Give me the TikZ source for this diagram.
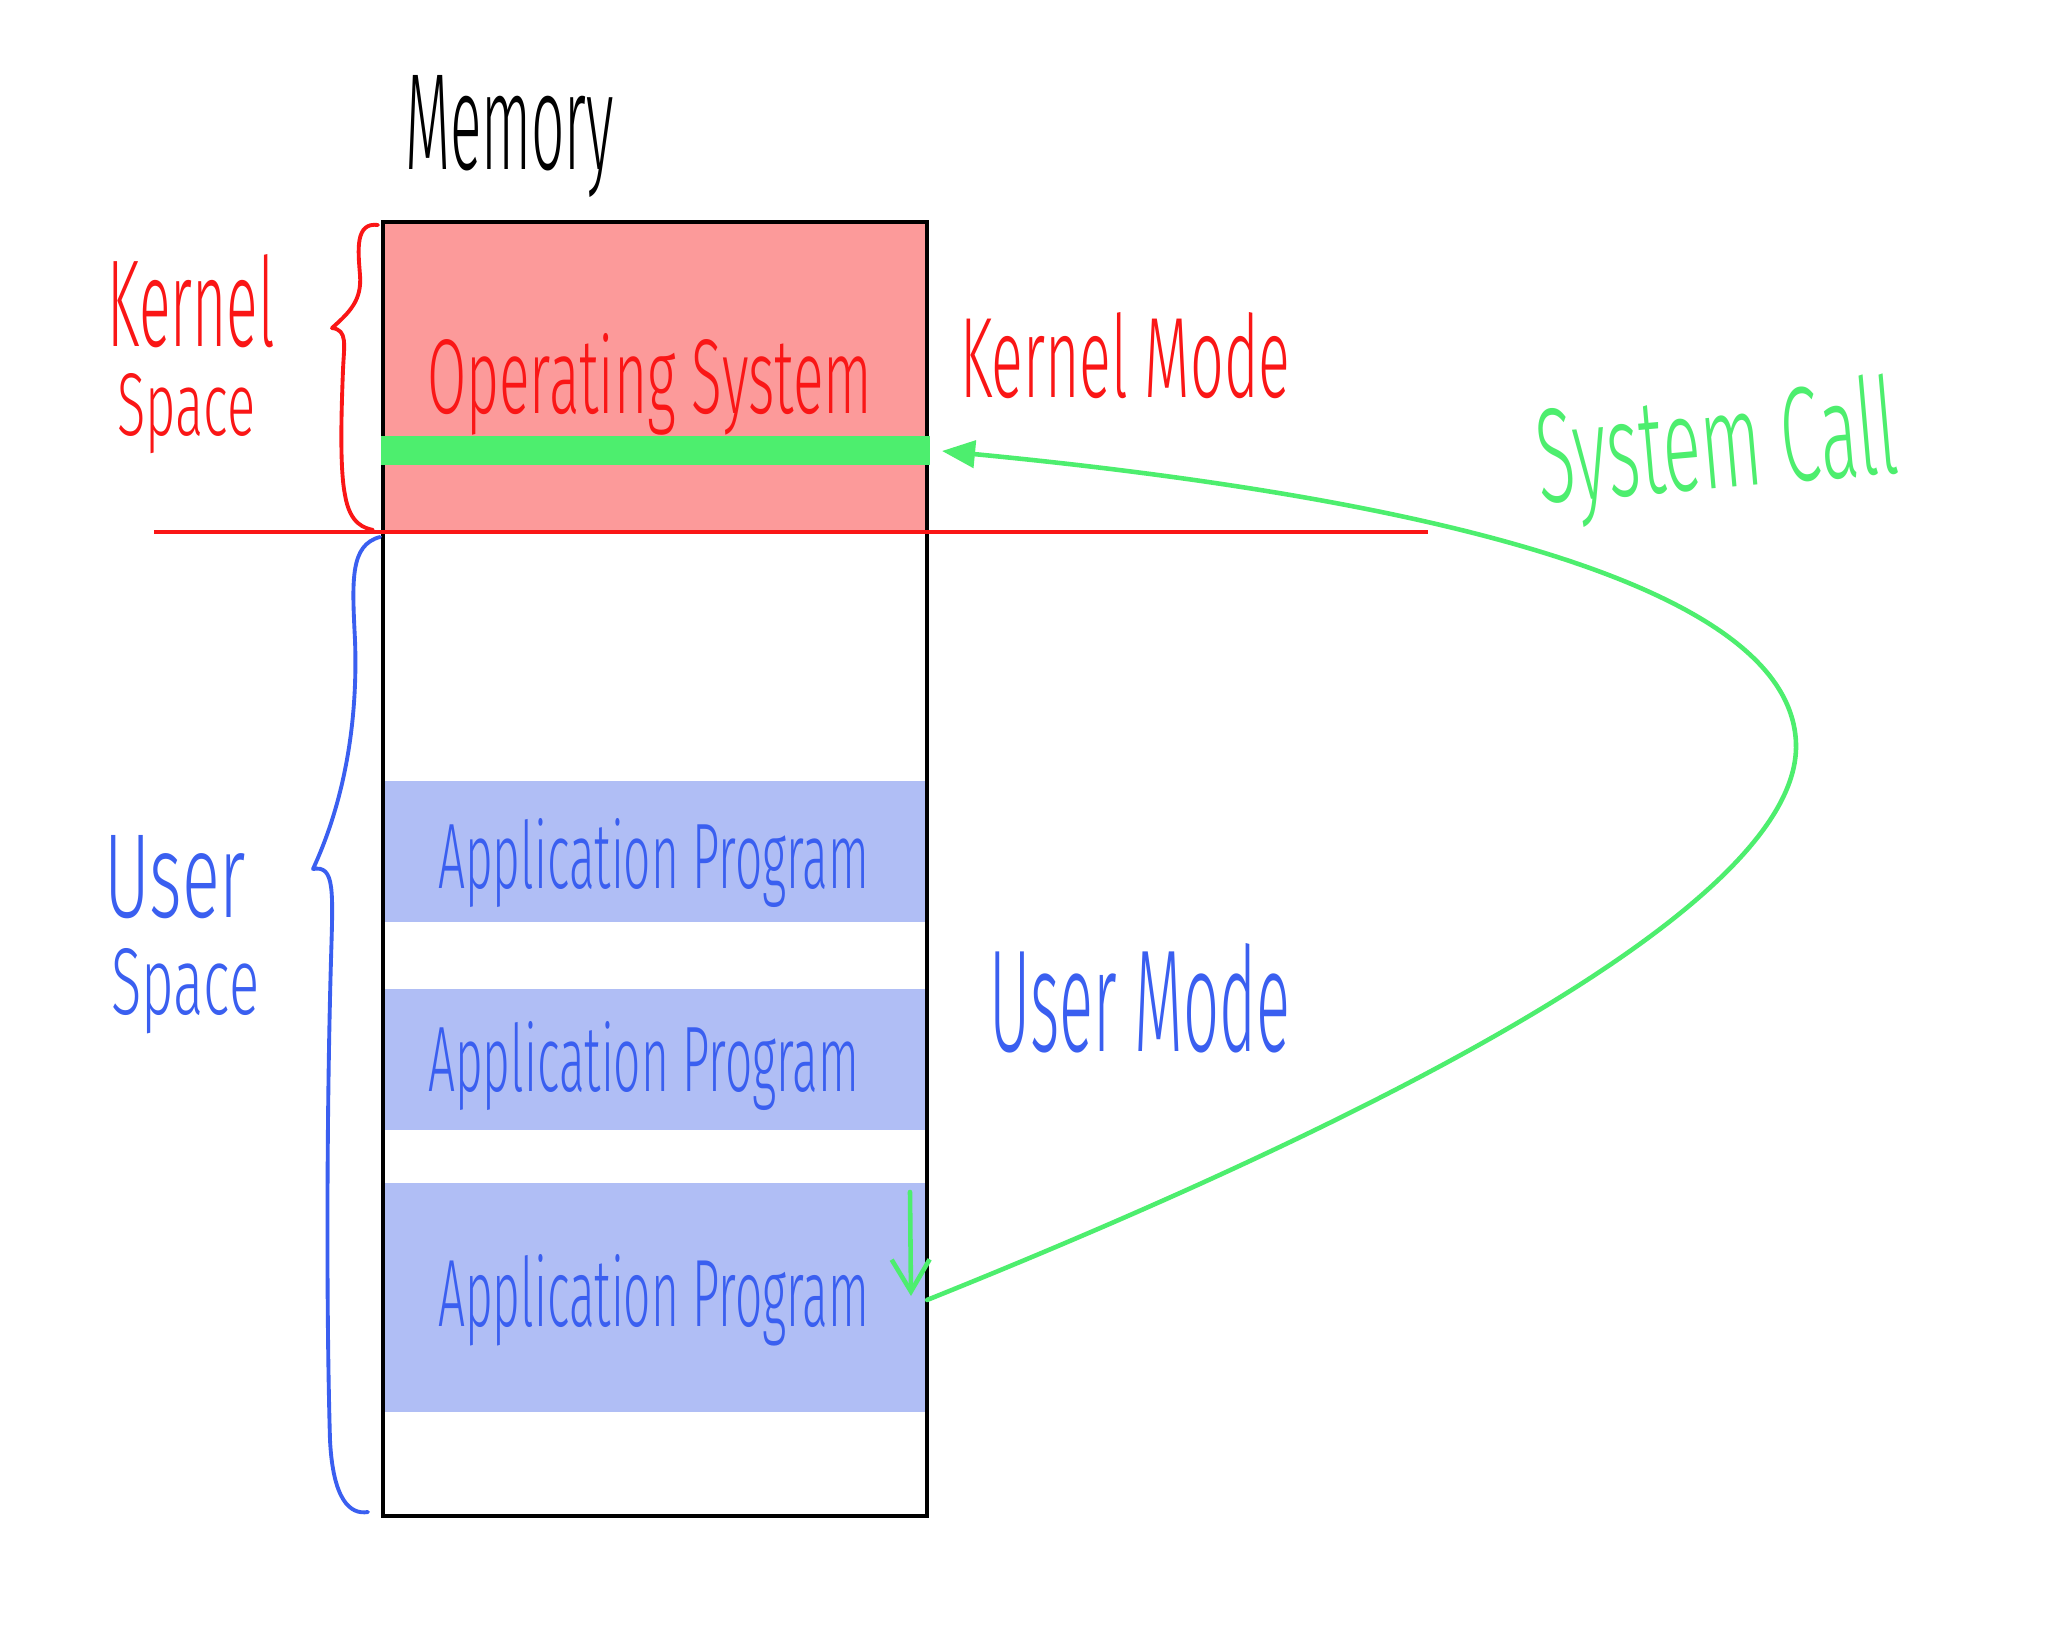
\documentclass[tikz,border=0pt]{standalone}
\usepackage{fontspec}
\setmainfont{Fira Sans}[UprightFont={* Light}]
\usepackage{graphicx}
\usetikzlibrary{arrows.meta}
\definecolor{penred}{RGB}{250,22,22}
\definecolor{pinkfill}{RGB}{252,154,154}
\definecolor{penblue}{RGB}{58,95,240}
\definecolor{bluefill}{RGB}{176,190,245}
\definecolor{pengreen}{RGB}{77,238,110}
\begin{document}
\begin{tikzpicture}[x=0.01cm,y=-0.01cm,
  region/.style={inner sep=0, outer sep=0, anchor=north west, draw=none},
  lbl/.style={inner sep=0, outer sep=0, anchor=base west},
  brace/.style={line width=1.1pt, line cap=round, line join=round},
  callline/.style={draw=pengreen, line width=1.3pt, line cap=round}]
\useasboundingbox (0,0) rectangle (2048,1631);
\fill[white] (0,0) rectangle (2048,1631);

% regions
\node[region, fill=pinkfill, minimum width=5.44cm, minimum height=3.10cm] (os) at (383,222) {};
\node[region, fill=bluefill, minimum width=5.41cm, minimum height=1.41cm] (app1) at (385,781) {};
\node[region, fill=bluefill, minimum width=5.41cm, minimum height=1.41cm] (app2) at (385,989) {};
\node[region, fill=bluefill, minimum width=5.41cm, minimum height=2.29cm] (app3) at (385,1183) {};
\node[region, draw=black, line width=1.2pt, minimum width=5.44cm, minimum height=12.93cm] (mem) at (383,222) {};
\node[region, fill=pengreen, minimum width=5.49cm, minimum height=0.29cm] (bar) at (381,436) {};

% kernel/user boundary
\coordinate (bl) at (154,532);
\coordinate (br) at (1428,532);
\draw[penred, line width=0.9pt] (bl) -- (br);

% braces
\draw[brace, penred] (378,225) .. controls (355,222) and (358,250) .. (360,275)
  .. controls (362,300) and (350,312) .. (332,328)
  .. controls (348,330) and (344,345) .. (343,370)
  .. controls (341,420) and (340,470) .. (345,495)
  .. controls (350,525) and (365,528) .. (373,530);
\draw[brace, penblue] (380,537) .. controls (350,545) and (352,580) .. (355,640)
  .. controls (358,720) and (345,800) .. (313,869)
  .. controls (335,865) and (333,890) .. (331,960)
  .. controls (327,1100) and (326,1300) .. (330,1440)
  .. controls (333,1500) and (350,1515) .. (368,1512);

% texts
\node[lbl] (tmem) at (405,170) {\resizebox{2.09cm}{0.94cm}{Memory}};
\node[lbl, text=penred] (tks) at (117,436) {\makebox[0pt][l]{\hspace{-0.09cm}\raisebox{0.89cm}{\resizebox{1.67cm}{0.92cm}{Kernel}}}\resizebox{1.38cm}{0.62cm}{Space}};
\node[lbl, text=penred] (tos) at (427,414) {\resizebox{4.45cm}{0.80cm}{Operating System}};
\node[lbl, text=penred] (tkm) at (960,398) {\resizebox{3.30cm}{0.85cm}{Kernel Mode}};
\node[lbl, text=penblue] (tus) at (111,1014) {\makebox[0pt][l]{\hspace{-0.07cm}\raisebox{0.96cm}{\resizebox{1.42cm}{0.82cm}{User}}}\resizebox{1.48cm}{0.66cm}{Space}};
\node[lbl, text=penblue] (tum) at (989,1051) {\resizebox{3.01cm}{1.08cm}{User Mode}};
\node[lbl, text=penblue] (tap1) at (438,888) {\resizebox{4.31cm}{0.70cm}{Application Program}};
\node[lbl, text=penblue] (tap2) at (428,1091) {\resizebox{4.31cm}{0.70cm}{Application Program}};
\node[lbl, text=penblue] (tap3) at (438,1326) {\resizebox{4.31cm}{0.72cm}{Application Program}};
\node[lbl, text=pengreen, rotate=5] (tsc) at (1540,504) {\resizebox{3.62cm}{1.0cm}{System Call}};

% system call curve
\coordinate (scstart) at (927,1300);
\coordinate (sctip) at (942,451);
\draw[callline, -{Triangle[length=0.33cm,width=0.27cm]}] (scstart)
  .. controls (1400,1110) and (1800,900) .. (1796,744)
  .. controls (1792,590) and (1450,500) .. (sctip);

% return arrow
\coordinate (rtop) at (910,1192);
\coordinate (rbot) at (911,1296);
\draw[callline, -{Straight Barb[length=0.32cm,width=0.38cm,line width=1.3pt]}] (rtop) -- (rbot);
\end{tikzpicture}
\end{document}
